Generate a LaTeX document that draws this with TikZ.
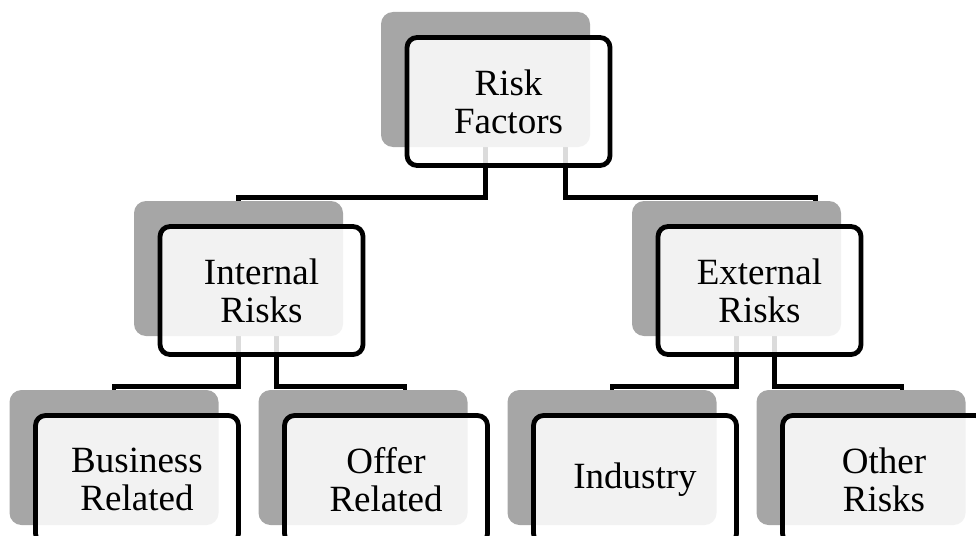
\documentclass[tikz,border=0pt]{standalone}
\usepackage{fontspec}
\setmainfont{Liberation Serif}
\usetikzlibrary{positioning,backgrounds}
\definecolor{backgray}{HTML}{A6A6A6}

\begin{document}
\begin{tikzpicture}[x=1pt,y=1pt,on grid,
    back/.style={rectangle,rounded corners=12pt,fill=backgray,
      minimum width=209pt,minimum height=135pt},
    box/.style={rectangle,rounded corners=10pt,draw=black,line width=4.8pt,
      fill=white,fill opacity=0.86,text opacity=1,
      minimum width=203pt,minimum height=128pt,align=center,
      font=\fontsize{37}{38}\selectfont},
    link/.style={line width=4.8pt}]
    \useasboundingbox (0,0) rectangle (976,-535);
    \clip (0,0) rectangle (976,-535);
    % grey back plates
    \node[back] (rf_s) at (485.5,-79.5)                        {};
    \node[back] (ir_s) [below left=189pt and 247pt of rf_s]    {};
    \node[back] (er_s) [below right=189pt and 251pt of rf_s]   {};
    \node[back] (br_s) [below left=189pt and 124.5pt of ir_s]  {};
    \node[back] (or_s) [below right=189pt and 124.5pt of ir_s] {};
    \node[back] (in_s) [below left=189pt and 124.5pt of er_s]  {};
    \node[back] (ot_s) [below right=189pt and 124.5pt of er_s] {};
    % framed boxes
    \node[box]  (rf) [below right=22pt and 23pt of rf_s] {Risk\\Factors};
    \node[box]  (ir) [below right=22pt and 23pt of ir_s] {Internal\\Risks};
    \node[box]  (er) [below right=22pt and 23pt of er_s] {External\\Risks};
    \node[box]  (br) [below right=22pt and 23pt of br_s] {Business\\Related};
    \node[box]  (or) [below right=22pt and 23pt of or_s] {Offer\\Related};
    \node[box]  (in) [below right=22pt and 23pt of in_s] {Industry};
    \node[box]  (ot) [below right=22pt and 23pt of ot_s] {Other\\Risks};
    % connectors
    \begin{scope}[on background layer]
      \draw[link] (rf_s.south) -- ++(0,-50) -| (ir_s.north);
      \draw[link] ([xshift=80pt]rf_s.south) -- ++(0,-50) -| ([xshift=79pt]er_s.north);
      \draw[link] (ir_s.south) -- ++(0,-50) -| (br_s.north);
      \draw[link] ([xshift=38pt]ir_s.south) -- ++(0,-50) -| ([xshift=42pt]or_s.north);
      \draw[link] (er_s.south) -- ++(0,-50) -| (in_s.north);
      \draw[link] ([xshift=38pt]er_s.south) -- ++(0,-50) -| ([xshift=41pt]ot_s.north);
    \end{scope}
\end{tikzpicture}
\end{document}
